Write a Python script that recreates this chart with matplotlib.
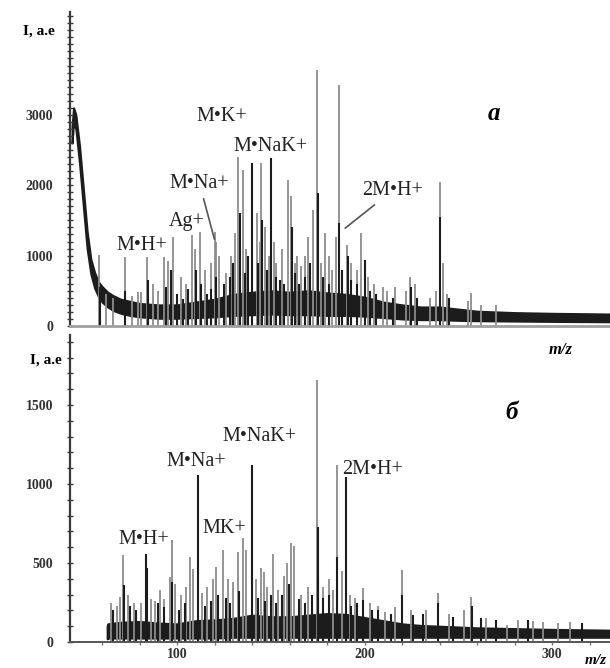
import matplotlib.pyplot as plt
from matplotlib.ticker import MultipleLocator, FixedLocator

plt.rcParams['font.family'] = ['Liberation Serif', 'DejaVu Serif']

# ---- spectrum (a): baseline band ----
top_base_mz = [44, 44.8, 46, 48, 50, 52, 54, 56, 58, 60, 63, 66, 70, 75, 80, 90, 100, 110,
               120, 130, 140, 150, 160, 170, 180, 190, 200, 210, 220, 230, 240, 250, 260,
               280, 300, 331]
top_base_hi = [2850, 3100, 3000, 2550, 1950, 1350, 950, 760, 630, 560, 480, 430, 380, 350,
               320, 300, 300, 340, 380, 450, 480, 500, 480, 500, 470, 450, 410, 340, 300,
               270, 270, 240, 210, 190, 180, 170]
top_base_lo = [2600, 2900, 2800, 2300, 1700, 1100, 740, 540, 420, 340, 270, 220, 180, 150,
               130, 110, 110, 120, 130, 150, 160, 170, 160, 160, 150, 150, 140, 120, 100,
               90, 90, 80, 75, 70, 65, 60]

top_gray_mz = [58.4, 62, 66, 72.3, 76, 79, 80.5, 84, 87, 90, 93, 95, 98, 102, 105, 108,
               109.5, 112, 115, 118, 120, 121, 122.5, 126, 129, 131, 132.6, 135, 137,
               142.7, 144, 145, 147, 149, 151.5, 153, 156, 159, 161, 163, 164, 166, 168,
               170, 172.5, 174.6, 177, 179, 181, 182.7, 184.8, 186.4, 190.6, 193, 196, 198,
               202, 205, 210, 212, 216, 222, 224, 227, 235, 238, 240, 242, 244, 255, 257,
               262, 270]
top_gray_h = [1010, 450, 400, 985, 420, 480, 480, 985, 600, 500, 985, 930, 1270, 700, 600,
              1290, 1100, 1330, 800, 900, 1340, 1200, 1000, 750, 1000, 1320, 2400, 2220,
              1100, 1600, 1200, 2310, 1410, 1000, 1200, 900, 1100, 2080, 1840, 900, 1000,
              850, 1000, 1270, 1650, 3640, 900, 1320, 1000, 800, 1270, 3430, 1150, 900, 800,
              1320, 700, 600, 560, 500, 550, 500, 700, 600, 400, 500, 2050, 900, 450, 350,
              470, 300, 300]
top_black_mz = [59, 72, 84.5, 94, 97, 100, 103, 106, 110, 113, 116, 118, 120.8, 125, 128,
                130, 133.5, 136, 138, 140, 143, 145.3, 148, 150, 153, 155, 157, 161.5, 163,
                165, 168, 171, 175, 178, 181, 186.6, 188, 191, 193, 196, 200, 203, 206, 215,
                225, 228, 240.2, 245]
top_black_h = [560, 500, 650, 560, 800, 450, 380, 520, 800, 600, 450, 520, 700, 600, 700,
               900, 1600, 750, 1000, 2310, 900, 1500, 800, 2390, 700, 650, 600, 1400, 750,
               600, 700, 900, 1890, 700, 600, 1460, 800, 1000, 650, 600, 940, 500, 450, 400,
               550, 400, 1550, 400]

# ---- spectrum (б) ----
bot_base_mz = [62.7, 63, 70, 80, 90, 100, 110, 120, 130, 140, 150, 160, 170, 180, 190,
               200, 210, 220, 230, 240, 250, 260, 280, 300, 331]
bot_base_hi = [100, 115, 125, 130, 120, 115, 135, 140, 150, 170, 160, 160, 170, 180, 175,
               155, 135, 115, 105, 100, 95, 90, 85, 80, 75]
bot_base_lo = [20, 25, 25, 25, 25, 25, 25, 25, 30, 30, 30, 30, 30, 30, 30, 30, 30, 30, 30,
               30, 30, 30, 30, 30, 30]

bot_gray_mz = [65, 68, 69.6, 71.2, 74, 77, 81, 86, 88, 91, 93, 96, 97.3, 99, 102, 105, 107,
               108.5, 113.5, 116, 119, 121, 124.6, 127, 130, 132.5, 135, 137, 142, 145,
               146.5, 148, 151, 154, 157, 158.6, 161, 162.5, 166, 170, 174.6, 178, 181, 183,
               185.3, 188, 192, 195, 199, 203, 207, 211, 216, 220, 225, 233, 239, 245, 253,
               257, 265, 276, 282, 290, 295, 303, 309.6]
bot_gray_h = [250, 230, 285, 550, 300, 250, 250, 270, 260, 330, 270, 410, 645, 370, 300,
              350, 540, 460, 310, 350, 400, 475, 580, 400, 380, 570, 660, 580, 400, 470, 440,
              350, 560, 330, 420, 500, 625, 610, 300, 350, 1660, 350, 400, 330, 1120, 450,
              300, 280, 340, 250, 230, 190, 220, 455, 200, 200, 310, 180, 200, 285, 150, 110,
              140, 130, 125, 120, 125]
bot_black_mz = [66, 71.5, 75, 78, 83.5, 84, 90, 93, 97.5, 101, 104, 111.3, 115, 118, 122,
                126, 128, 133, 140, 143, 147, 150, 153, 156, 159.5, 165, 168, 172, 175,
                175.3, 178, 181, 185.5, 190, 193, 196, 199.2, 204, 207, 214, 220.2, 226,
                231, 239.2, 247, 257.2, 262, 270, 287, 316]
bot_black_h = [200, 360, 230, 200, 560, 470, 250, 220, 380, 200, 250, 1055, 230, 260, 300,
               280, 250, 320, 1120, 280, 260, 300, 250, 300, 370, 270, 250, 300, 730, 410,
               280, 300, 540, 1045, 230, 250, 265, 200, 200, 180, 300, 170, 180, 250, 160,
               230, 150, 140, 140, 120]

GRAY = '#8c8c8c'
DARK = '#1c1c1c'

fig = plt.figure(figsize=(6.1, 6.68), dpi=100)
ax1 = fig.add_axes([0.1148, 0.512, 0.8852, 0.470])
ax2 = fig.add_axes([0.1148, 0.0389, 0.8852, 0.4596])


def draw_spectrum(ax, gmz, gh, bmz, bh, bmz_base, lo, hi):
    ax.vlines(gmz, 0, gh, color=GRAY, lw=1.3)
    ax.vlines(bmz, 0, bh, color=DARK, lw=1.5)
    ax.fill_between(bmz_base, lo, hi, color=DARK, lw=1.5, edgecolor=DARK)


draw_spectrum(ax1, top_gray_mz, top_gray_h, top_black_mz, top_black_h,
              top_base_mz, top_base_lo, top_base_hi)
draw_spectrum(ax2, bot_gray_mz, bot_gray_h, bot_black_mz, bot_black_h,
              bot_base_mz, bot_base_lo, bot_base_hi)

for ax in (ax1, ax2):
    ax.set_xlim(42.9, 330.9)
    for s in ('top', 'right'):
        ax.spines[s].set_visible(False)
    ax.spines['left'].set_color('#3a3a3a')
    ax.spines['left'].set_linewidth(1.6)
    ax.yaxis.set_minor_locator(MultipleLocator(100))
    ax.tick_params(axis='y', which='both', direction='inout', length=4, width=1,
                   color='#3a3a3a', labelsize=10, labelcolor='#333333', pad=10)

ax1.set_ylim(0, 4460)
ax1.set_yticks([0, 1000, 2000, 3000])
ax1.set_xticks([])
ax1.spines['bottom'].set_color('#a0a0a0')
ax1.spines['bottom'].set_linewidth(2)

ax2.set_ylim(0, 1943)
ax2.set_yticks([0, 500, 1000, 1500])
ax2.set_xticks([100, 200, 300])
ax2.xaxis.set_minor_locator(FixedLocator(range(60, 331, 20)))
ax2.spines['bottom'].set_color('#555555')
ax2.spines['bottom'].set_linewidth(1.4)
ax2.tick_params(axis='x', which='both', direction='out', length=2.5, width=1,
                color='#777777', labelsize=10, labelcolor='#333333', pad=2)

for ax in (ax1, ax2):
    for lbl in ax.get_yticklabels() + ax.get_xticklabels():
        lbl.set_fontweight('bold')

fig.text(55 / 610, 1 - 31 / 668, 'I, a.e', ha='right', va='center',
         fontsize=11, fontweight='bold')
fig.text(62 / 610, 1 - 360 / 668, 'I, a.e', ha='right', va='center',
         fontsize=11, fontweight='bold')

lab = dict(fontsize=14.5, ha='center', va='center', color='#222222')
line = dict(arrowstyle='-', color='#555555', lw=1.2)

# labels on (a)
ax1.text(81.3, 1140, 'M•H+', **lab)
ax1.text(105.3, 1480, 'Ag+', **lab)
ax1.annotate('M•Na+', xy=(120.3, 1195), xytext=(112, 2020), arrowprops=line, **lab)
ax1.text(124, 2970, 'M•K+', **lab)
ax1.text(149.6, 2550, 'M•NaK+', **lab)
ax1.annotate('2M•H+', xy=(188.5, 1365), xytext=(214.7, 1920), arrowprops=line, **lab)
ax1.text(269, 3015, 'a', fontsize=18, fontweight='bold', style='italic',
         ha='center', va='center')

# labels on (б)
ax2.text(82.4, 650, 'M•H+', **lab)
ax2.text(110, 1145, 'M•Na+', **lab)
ax2.text(125, 720, 'MK+', **lab)
ax2.text(144, 1300, 'M•NaK+', **lab)
ax2.text(204.5, 1090, '2M•H+', **lab)
ax2.text(278.7, 1455, 'б', fontsize=18, fontweight='bold', style='italic',
         ha='center', va='center')

fig.text(561 / 610, 1 - 350 / 668, 'm/z', ha='center', va='center',
         fontsize=12, fontweight='bold', style='italic')
fig.text(607 / 610, 1 - 660 / 668, 'm/z', ha='right', va='center',
         fontsize=11, fontweight='bold', style='italic')

fig.savefig('out.png', dpi=100)
